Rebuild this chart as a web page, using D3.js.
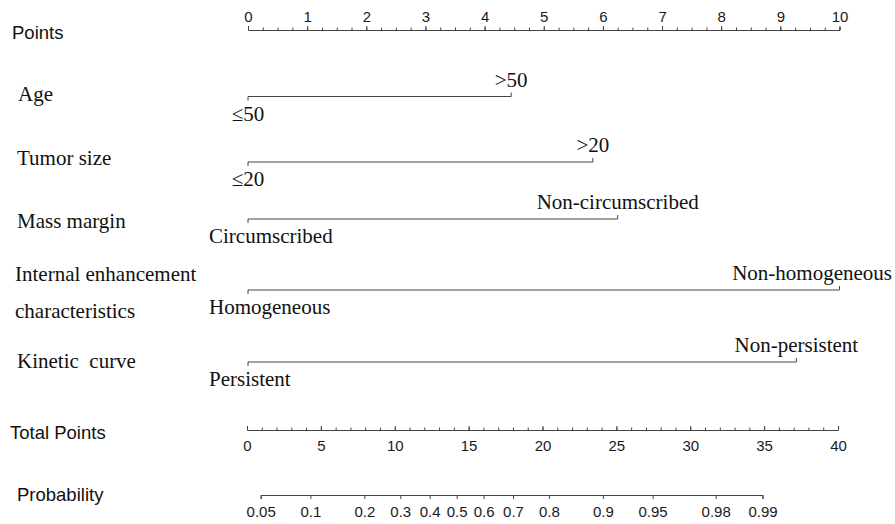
<!DOCTYPE html>
<html>
<head>
<meta charset="utf-8">
<script src="https://cdn.jsdelivr.net/npm/d3@7"></script>
<style>
  html, body { margin: 0; padding: 0; background: #fff; }
  svg { display: block; }
  .sans { font-family: "Liberation Sans", Arial, sans-serif; }
  .serif { font-family: "Liberation Serif", "Times New Roman", serif; }
</style>
</head>
<body>
<svg id="chart" width="895" height="524"></svg>
<script>
// ---- Nomogram data ----
const variables = ["Age", "Tumor size", "Mass margin", "Internal enhancement characteristics", "Kinetic  curve"];
const lowLevels = ["≤50", "≤20", "Circumscribed", "Homogeneous", "Persistent"];
const highLevels = [">50", ">20", "Non-circumscribed", "Non-homogeneous", "Non-persistent"];
const lowPoints = [0, 0, 0, 0, 0];
const highPoints = [4.45, 5.83, 6.25, 10, 9.27];

const pointTicks = d3.range(0, 11, 1);
const totalTicks = d3.range(0, 41, 5);
const probTicks = [0.05, 0.1, 0.2, 0.3, 0.4, 0.5, 0.6, 0.7, 0.8, 0.9, 0.95, 0.98, 0.99];
const probLabels = ["0.05", "0.1", "0.2", "0.3", "0.4", "0.5", "0.6", "0.7", "0.8", "0.9", "0.95", "0.98", "0.99"];

// logistic model: logit(p) = intercept + slope * totalPoints
const logitIntercept = -3.150;
const logitSlope = 0.222;

// ---- Layout ----
const svg = d3.select("#chart");
const x0 = 248, x1 = 839.5;
const pointsY = 30, totalY = 430, probY = 495;
const rowY = [96.5, 162, 219, 290, 362];
const nameBaselines = [[101], [165], [228], [281, 318], [368]];
const nameX = [18, 17, 17, 15, 17];
const lineColor = "#444";

const xPoints = d3.scaleLinear().domain([0, 10]).range([x0, x1]);
const xTotal = d3.scaleLinear().domain([0, 40]).range([x0 - 1, x1 - 1.5]);

function styleAxis(g) {
  g.selectAll("path.domain").attr("stroke", lineColor).attr("stroke-width", 1);
  g.selectAll(".tick line").attr("stroke", lineColor).attr("stroke-width", 1);
  g.selectAll(".tick text").attr("fill", "#1a1a1a")
    .attr("font-family", "Liberation Sans, Arial, sans-serif").attr("font-size", 15);
}

// Points axis (ticks and labels above)
const gPts = svg.append("g").attr("transform", `translate(0,${pointsY})`);
gPts.append("g")
  .call(d3.axisTop(xPoints).tickValues(d3.range(0, 10.01, 0.25)).tickSize(2.5).tickFormat(""))
  .call(styleAxis);
gPts.append("g")
  .call(d3.axisTop(xPoints).tickValues(pointTicks).tickSizeInner(4).tickSizeOuter(4).tickPadding(4).tickFormat(d3.format("d")))
  .call(styleAxis)
  .call(g => g.select("path.domain").remove());

// Total points axis (ticks up, labels below)
const gTot = svg.append("g").attr("transform", `translate(0,${totalY})`);
gTot.append("g")
  .call(d3.axisBottom(xTotal).tickValues(d3.range(0, 41, 1)).tickSizeInner(-2.5).tickSizeOuter(-4).tickFormat(""))
  .call(styleAxis);
gTot.append("g")
  .call(d3.axisBottom(xTotal).tickValues(totalTicks).tickSizeInner(-4).tickSizeOuter(0).tickPadding(10).tickFormat(d3.format("d")))
  .call(styleAxis)
  .call(g => g.select("path.domain").remove());

// Probability axis, positioned by the logistic model on the total-points scale
const logit = p => Math.log(p / (1 - p));
const totalFromLogit = l => (l - logitIntercept) / logitSlope;
const lMin = logit(probTicks[0]), lMax = logit(probTicks[probTicks.length - 1]);
const xLogit = d3.scaleLinear().domain([lMin, lMax])
  .range([xTotal(totalFromLogit(lMin)), xTotal(totalFromLogit(lMax))]);
const probLogits = probTicks.map(logit);
svg.append("g").attr("transform", `translate(0,${probY})`)
  .call(d3.axisBottom(xLogit).tickValues(probLogits).tickSizeInner(4).tickSizeOuter(4).tickPadding(7)
    .tickFormat((d, i) => probLabels[i]))
  .call(styleAxis);

// Left-side titles for the axes
const sansTitles = [["Points", 12, 38.5], ["Total Points", 10, 438.5], ["Probability", 17, 500.5]];
svg.append("g").selectAll("text").data(sansTitles).join("text")
  .attr("class", "sans").attr("x", d => d[1]).attr("y", d => d[2])
  .attr("font-size", 18.5).attr("fill", "#111").text(d => d[0]);

// Predictor rows
const rows = svg.append("g").selectAll("g").data(variables).join("g");

rows.each(function (name, i) {
  const g = d3.select(this);
  const y = rowY[i];
  const xa = xPoints(lowPoints[i]), xb = xPoints(highPoints[i]);

  // variable name (may wrap onto two lines)
  const parts = name === "Internal enhancement characteristics" ? ["Internal enhancement", "characteristics"] : [name];
  parts.forEach((t, k) => {
    g.append("text").attr("class", "serif").attr("x", nameX[i]).attr("y", nameBaselines[i][k])
      .attr("font-size", 21).attr("fill", "#111").attr("xml:space", "preserve").text(t);
  });

  // level line with end ticks
  g.append("path")
    .attr("d", `M${xa},${y + 4}V${y}H${xb}V${y - 4}`)
    .attr("fill", "none").attr("stroke", lineColor).attr("stroke-width", 1);

  // low level label below the line, high level label above
  const lo = g.append("text").attr("class", "serif").attr("font-size", 21).attr("fill", "#111")
    .attr("y", y + 24).text(lowLevels[i]);
  const wLo = lo.node().getComputedTextLength();
  lo.attr("x", Math.max(209, xa - wLo / 2));

  const hi = g.append("text").attr("class", "serif").attr("font-size", 21).attr("fill", "#111")
    .attr("y", y - 10).text(highLevels[i]);
  const wHi = hi.node().getComputedTextLength();
  hi.attr("x", Math.min(892 - wHi, xb - wHi / 2));
});
</script>
</body>
</html>
